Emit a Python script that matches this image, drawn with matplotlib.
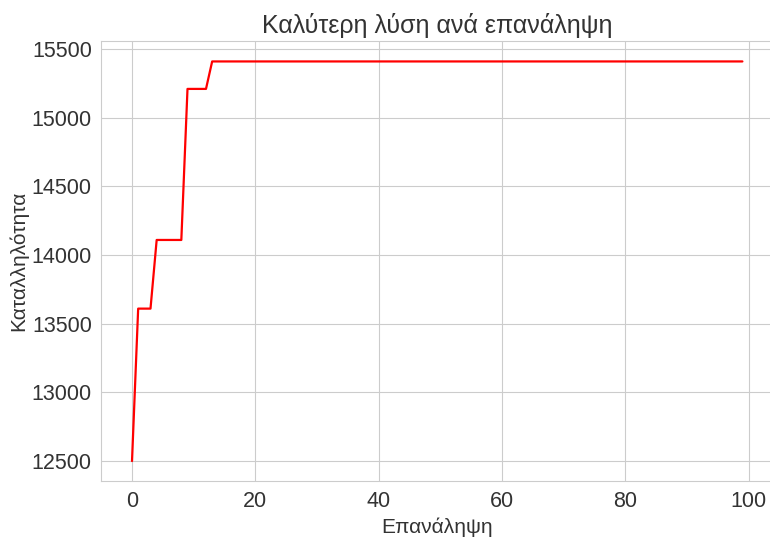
import matplotlib
matplotlib.use("Agg")
import matplotlib.pyplot as plt
import seaborn as sns

# best fitness per iteration
iterations = list(range(100))
step_starts = [0, 1, 4, 9, 13]
step_values = [12500, 13610, 14110, 15210, 15410]

best = []
for it in iterations:
    v = step_values[0]
    for s, val in zip(step_starts, step_values):
        if it >= s:
            v = val
    best.append(v)

title = "Καλύτερη λύση ανά επανάληψη"
xlabel = "Επανάληψη"
ylabel = "Καταλληλότητα"

sns.set_style("whitegrid")
plt.rcParams["font.family"] = ["Liberation Sans Narrow", "Liberation Sans", "DejaVu Sans"]

fig = plt.figure(figsize=(7.7, 5.42), dpi=100)
ax = fig.add_axes([0.1318, 0.1125, 0.872, 0.811])
ax.plot(iterations, best, color="red", linewidth=1.6)
ax.set_title(title, fontsize=18, color="#333333")
ax.set_xlabel(xlabel, fontsize=15, color="#333333")
ax.set_ylabel(ylabel, fontsize=15, color="#333333", labelpad=2.5)
ax.tick_params(labelsize=15.5, colors="#333333")
ax.set_xticks([0, 20, 40, 60, 80, 100])

fig.savefig("out.png", dpi=100)
